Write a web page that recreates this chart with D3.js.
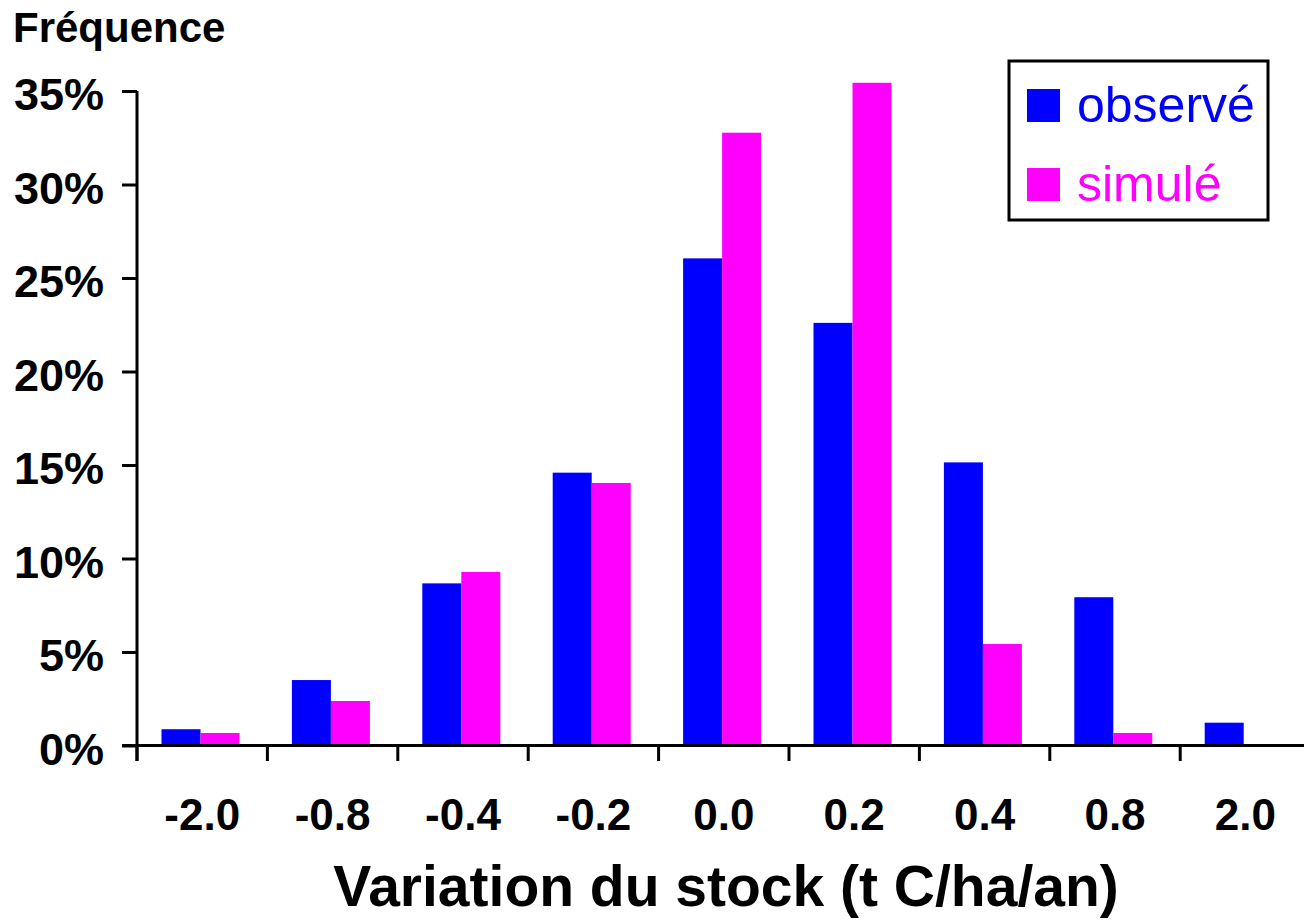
<!DOCTYPE html>
<html lang="fr">
<head>
<meta charset="utf-8">
<title>Fréquence – variation du stock</title>
<script src="https://cdn.jsdelivr.net/npm/d3@7/dist/d3.min.js"></script>
<style>
  html, body { margin: 0; padding: 0; background: #fff; }
  svg { display: block; font-family: "Liberation Sans", Arial, Helvetica, sans-serif; }
</style>
</head>
<body>
<svg id="chart" width="1304" height="921"></svg>
<script>
// Classes de variation du stock (t C/ha/an)
const categories = ["-2.0", "-0.8", "-0.4", "-0.2", "0.0", "0.2", "0.4", "0.8", "2.0"];
// Fréquences (%) par classe
const observe = [0.87, 3.5, 8.67, 14.59, 26.05, 22.6, 15.14, 7.93, 1.22];
const simule  = [0.67, 2.38, 9.28, 14.04, 32.77, 35.44, 5.43, 0.67, 0];
const seriesNames = ["observé", "simulé"];
const seriesColors = ["#0000ff", "#ff00ff"];
const yTicks = [0, 5, 10, 15, 20, 25, 30, 35];

(function () {
  const svg = d3.select("#chart");
  svg.append("rect").attr("width", 1304).attr("height", 921).attr("fill", "#fff");

  const plotLeft = 137, plotBottom = 745.5, plotTop = 91, bandW = 130.4;

  const x = d3.scaleBand()
    .domain(categories)
    .range([plotLeft, plotLeft + bandW * categories.length])
    .paddingInner(0).paddingOuter(0);

  const x1 = d3.scaleBand()
    .domain(seriesNames)
    .range([24.5, 24.5 + 78])
    .padding(0);

  const y = d3.scaleLinear().domain([0, 35]).range([plotBottom, plotTop]);

  const rows = categories.map((c, i) => ({ cat: c, values: [observe[i], simule[i]] }));

  // Barres groupées
  const groups = svg.append("g")
    .selectAll("g")
    .data(rows)
    .join("g")
    .attr("transform", d => `translate(${x(d.cat)},0)`);

  groups.selectAll("rect")
    .data(d => d.values.map((v, k) => ({ v, k })))
    .join("rect")
    .attr("x", d => x1(seriesNames[d.k]))
    .attr("width", x1.bandwidth())
    .attr("y", d => y(d.v))
    .attr("height", d => y(0) - y(d.v))
    .attr("fill", d => seriesColors[d.k]);

  // Axe des ordonnées
  const yAxis = svg.append("g")
    .attr("transform", `translate(${plotLeft},0)`)
    .call(d3.axisLeft(y).tickValues(yTicks).tickFormat(d => d + "%").tickSize(15).tickPadding(18).tickSizeOuter(0));
  yAxis.select(".domain").remove();
  yAxis.selectAll(".tick line").attr("stroke", "#000").attr("stroke-width", 3);
  yAxis.selectAll(".tick text")
    .attr("dy", "0.42em")
    .attr("fill", "#000")
    .style("font-size", "45px").style("font-weight", "bold")
    .style("font-family", "'Liberation Sans', Arial, sans-serif");

  // Ligne verticale de l'axe
  svg.append("line")
    .attr("x1", plotLeft).attr("x2", plotLeft)
    .attr("y1", y(35)).attr("y2", plotBottom + 15.5)
    .attr("stroke", "#000").attr("stroke-width", 3);

  // Ligne horizontale de l'axe
  svg.append("line")
    .attr("x1", plotLeft - 15).attr("x2", 1304)
    .attr("y1", plotBottom).attr("y2", plotBottom)
    .attr("stroke", "#000").attr("stroke-width", 3);

  // Graduations entre classes
  svg.append("g")
    .selectAll("line")
    .data(categories)
    .join("line")
    .attr("x1", d => x(d)).attr("x2", d => x(d))
    .attr("y1", plotBottom).attr("y2", plotBottom + 15.5)
    .attr("stroke", "#000").attr("stroke-width", 3);

  // Libellés des classes
  const xAxis = svg.append("g")
    .attr("transform", `translate(0,${plotBottom})`)
    .call(d3.axisBottom(x).tickSize(0).tickPadding(53));
  xAxis.select(".domain").remove();
  xAxis.selectAll(".tick text")
    .attr("fill", "#000")
    .style("font-size", "44px").style("font-weight", "bold")
    .style("font-family", "'Liberation Sans', Arial, sans-serif");

  // Titres des axes
  svg.append("text")
    .attr("x", 13).attr("y", 42)
    .style("font-size", "42px").style("font-weight", "bold")
    .text("Fréquence");

  svg.append("text")
    .attr("x", 726).attr("y", 906)
    .attr("text-anchor", "middle")
    .style("font-size", "57px").style("font-weight", "bold")
    .text("Variation du stock (t C/ha/an)");

  // Légende
  const legend = svg.append("g");
  legend.append("rect")
    .attr("x", 1009).attr("y", 61).attr("width", 259).attr("height", 159)
    .attr("fill", "#fff").attr("stroke", "#000").attr("stroke-width", 3);

  const items = legend.selectAll("g.item")
    .data(seriesNames)
    .join("g")
    .attr("class", "item")
    .attr("transform", (d, i) => `translate(1027,${89 + i * 79})`);

  items.append("rect")
    .attr("width", 33).attr("height", 33)
    .attr("fill", (d, i) => seriesColors[i]);

  items.append("text")
    .attr("x", 50).attr("y", 33)
    .attr("fill", (d, i) => seriesColors[i])
    .style("font-size", "50px")
    .text(d => d);
})();
</script>
</body>
</html>
